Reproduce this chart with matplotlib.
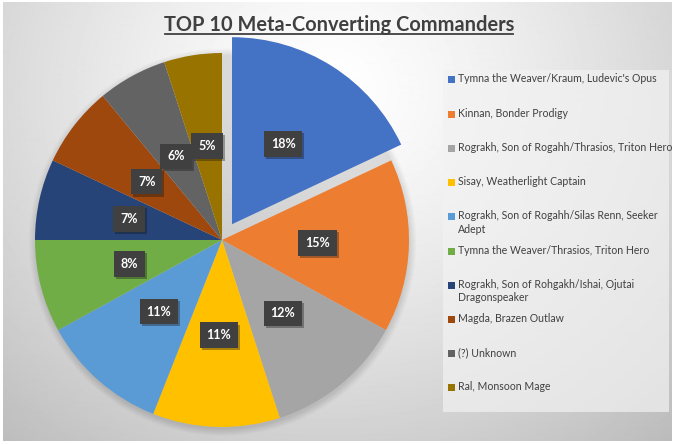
import textwrap
import numpy as np
import matplotlib
matplotlib.use("Agg")
import matplotlib.pyplot as plt
from matplotlib import patheffects as pe
from matplotlib.patches import Rectangle, Circle

# data
commanders = [
    "Tymna the Weaver/Kraum, Ludevic's Opus",
    "Kinnan, Bonder Prodigy",
    "Rograkh, Son of Rogahh/Thrasios, Triton Hero",
    "Sisay, Weatherlight Captain",
    "Rograkh, Son of Rogahh/Silas Renn, Seeker Adept",
    "Tymna the Weaver/Thrasios, Triton Hero",
    "Rograkh, Son of Rohgakh/Ishai, Ojutai Dragonspeaker",
    "Magda, Brazen Outlaw",
    "(?) Unknown",
    "Ral, Monsoon Mage",
]
shares = [18, 15, 12, 11, 11, 8, 7, 7, 6, 5]
colors = ["#4472C4", "#ED7D31", "#A5A5A5", "#FFC000", "#5B9BD5",
          "#70AD47", "#264478", "#9E480E", "#636363", "#997300"]
explode = [0.1, 0, 0, 0, 0, 0, 0, 0, 0, 0]
title = "TOP 10 Meta-Converting Commanders"

W, H = 680, 444
fig = plt.figure(figsize=(W / 100, H / 100), dpi=100)

# background: radial gray gradient like the Excel chart area
bg = fig.add_axes([0, 0, 1, 1], zorder=0)
yy, xx = np.mgrid[0:H, 0:W]
d = np.hypot((xx - 330) / 430.0, (yy - 90) / 390.0)
shade = 1.0 - 0.21 * np.clip(d, 0, 1.3) ** 1.3
shade[:3, :] = 1.0
shade[441:, :] = 1.0
shade[:, 672:] = 1.0
shade[:, :3] = 1.0
bg.imshow(shade, cmap="gray", vmin=0, vmax=1, aspect="auto",
          extent=(0, W, H, 0), interpolation="bilinear")
bg.set_xlim(0, W)
bg.set_ylim(H, 0)
bg.axis("off")

# legend panel
bg.add_patch(Rectangle((443, 70), 226, 342, facecolor="#f2f2f2",
                       edgecolor="none", alpha=0.7))
for i, name in enumerate(commanders):
    y = 80 + i * 34.2
    bg.add_patch(Rectangle((448, y - 3.5), 7, 7, facecolor=colors[i],
                           edgecolor="none"))
    bg.text(458, y - 6.5, textwrap.fill(name, 45), fontsize=7.6,
            family="Lato", color="#404040", va="top", ha="left",
            linespacing=1.25)

# title with underline
t = bg.text(339, 25, title, fontsize=14.4, family="Lato", weight="bold",
            color="#404040", ha="center", va="center")
fig.canvas.draw()
bb = t.get_window_extent().transformed(bg.transData.inverted())
bg.plot([bb.x0 + 1, bb.x1 - 1], [34.5, 34.5], color="#404040", lw=1.3)

# pie
ax = fig.add_axes([22 / W, 4 / H, 400 / W, 400 / H], zorder=1)
ax.patch.set_alpha(0)
for k in range(10):
    ax.add_patch(Circle((0.004, -0.012), 1.0 + 0.004 * k, facecolor="black",
                        edgecolor="none", alpha=0.012))
wedges, texts, autotexts = ax.pie(
    shares, colors=colors, explode=explode, startangle=90, counterclock=False,
    autopct="%1.0f%%", pctdistance=0.51, radius=1.0,
    wedgeprops=dict(linewidth=0),
    textprops=dict(color="white", fontsize=9, weight="bold", family="Lato"))
for at in autotexts:
    at.set_bbox(dict(boxstyle="square,pad=0.55", facecolor="#404040",
                     edgecolor="none"))
    at.get_bbox_patch().set_path_effects(
        [pe.SimplePatchShadow(offset=(1.5, -1.5), alpha=0.35), pe.Normal()])
ax.set_xlim(-200 / 187, 200 / 187)
ax.set_ylim(-200 / 187, 200 / 187)
ax.set_aspect("equal")
ax.axis("off")

fig.savefig("out.png", dpi=100)
